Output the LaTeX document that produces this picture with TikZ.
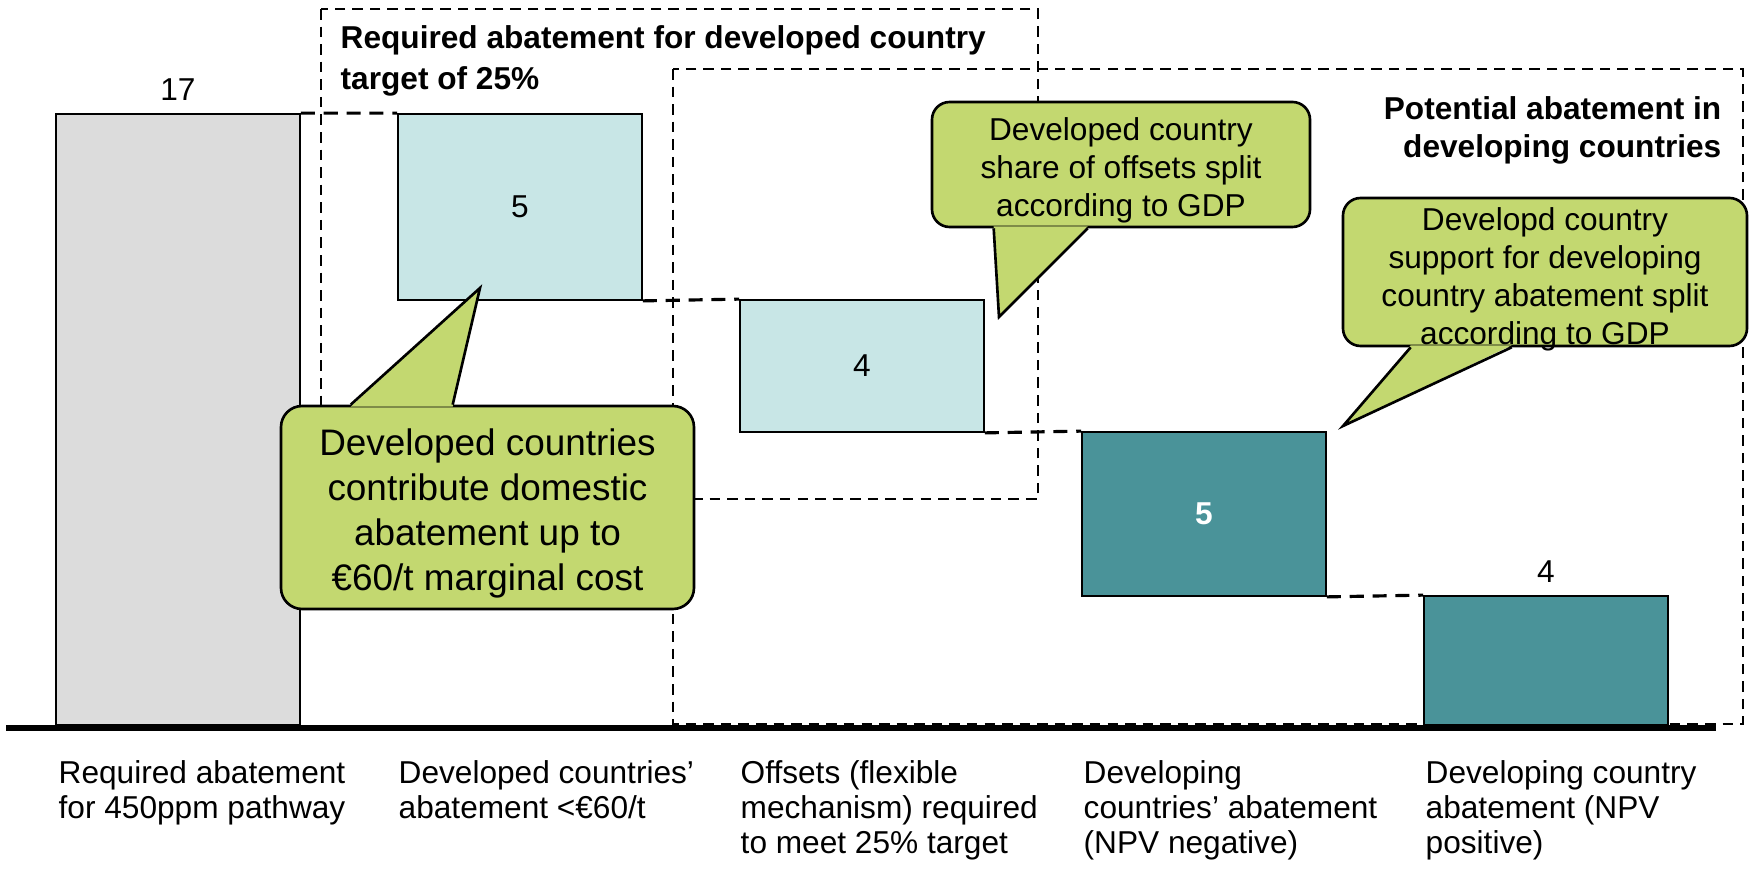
\documentclass[tikz,border=0pt]{standalone}
\usepackage{fontspec}
\setmainfont{Liberation Sans}
\usetikzlibrary{positioning,calc}
\definecolor{barGrey}{HTML}{DCDCDC}
\definecolor{barLight}{HTML}{C8E6E6}
\definecolor{barTeal}{HTML}{4A9399}
\definecolor{noteGreen}{HTML}{C3D870}

\begin{document}
\begin{tikzpicture}[x=0.1mm,y=-0.1mm,
  bar/.style={draw=black,line width=0.5pt,minimum width=24.4mm,inner sep=0pt,font=\fontsize{9}{10}\selectfont},
  val/.style={font=\fontsize{9}{10}\selectfont},
  link/.style={line width=0.9pt,dash pattern=on 4pt off 2.5pt},
  frame/.style={line width=0.6pt,dash pattern=on 3pt off 2pt},
  note/.style={draw=black,line width=0.75pt,fill=noteGreen,rounded corners=5pt,inner sep=0pt},
  notetext/.style={inner sep=0pt,align=center,font=\fontsize{9}{10.8}\selectfont},
  tipline/.style={line width=0.75pt,line join=miter},
  cat/.style={anchor=north west,inner sep=0pt,align=left,font=\fontsize{9}{10}\selectfont}]
\useasboundingbox (0,0) rectangle (1750,869);

% dashed frames
\draw[frame] (321,9) rectangle (1038,499);
\draw[frame] (673,69) rectangle (1743,724);

% bars
\node[bar,fill=barGrey,minimum height=61.1mm] (req) at (178,419.5) {};
\node[bar,fill=barLight,minimum height=18.6mm] (dom) at (520,207) {5};
\node[bar,fill=barLight,minimum height=13.2mm] (off) at (862,366) {4};
\node[bar,fill=barTeal,minimum height=16.4mm,text=white,font=\fontsize{9}{10}\selectfont\bfseries] (neg) at (1204,514) {5};
\node[bar,fill=barTeal,minimum height=12.9mm] (pos) at (1546,660.5) {};
\node[val,above=0pt of req] (vreq) {17};
\node[val,above=0pt of pos] (vpos) {4};

% steps
\draw[link] (req.north east) -- (dom.north west);
\draw[link] (dom.south east) -- (off.north west);
\draw[link] (off.south east) -- (neg.north west);
\draw[link] (neg.south east) -- (pos.north west);

% axis
\coordinate (ax0) at (6,728);
\coordinate (ax1) at (1716,728);
\draw[line width=1.5pt] (ax0) -- (ax1);

% frame titles
\node[anchor=north west,inner sep=0pt,align=left,font=\fontsize{9}{11.7}\selectfont\bfseries] (ttldev) at (340,25) {Required abatement for developed country\\target of 25\%};
\node[anchor=north east,inner sep=0pt,align=right,font=\fontsize{9}{10.8}\selectfont\bfseries] (ttlpot) at (1722,96) {Potential abatement in\\developing countries};

% callouts
\node[note,minimum width=41.3mm,minimum height=20.3mm,rounded corners=6pt] (ndom) at (487.5,507.5) {};
\coordinate (tdom) at (480,288);
\fill[noteGreen] ($(ndom.north west)+(71,2)$) -- (tdom) -- ($(ndom.north west)+(173,2)$) -- cycle;
\draw[tipline] ($(ndom.north west)+(71,0)$) -- (tdom) -- ($(ndom.north west)+(173,0)$);
\node[notetext,font=\fontsize{10.5}{12.8}\selectfont] (xdom) at ($(ndom.center)+(0,6)$) {Developed countries\\contribute domestic\\abatement up to\\€60/t marginal cost};

\node[note,minimum width=37.8mm,minimum height=12.5mm] (noff) at (1121,164.5) {};
\coordinate (toff) at (999,317);
\fill[noteGreen] ($(noff.south west)+(63,-2)$) -- (toff) -- ($(noff.south west)+(157,-2)$) -- cycle;
\draw[tipline] ($(noff.south west)+(63,0)$) -- (toff) -- ($(noff.south west)+(157,0)$);
\node[notetext] (xoff) at ($(noff.center)+(0,6)$) {Developed country\\share of offsets split\\according to GDP};

\node[note,minimum width=40.4mm,minimum height=14.8mm] (nsup) at (1545,272) {};
\coordinate (tsup) at (1343,426);
\fill[noteGreen] ($(nsup.south west)+(69,-2)$) -- (tsup) -- ($(nsup.south west)+(170,-2)$) -- cycle;
\draw[tipline] ($(nsup.south west)+(69,0)$) -- (tsup) -- ($(nsup.south west)+(170,0)$);
\node[notetext] (xsup) at ($(nsup.center)+(0,7)$) {Developd country\\support for developing\\country abatement split\\according to GDP};

% categories
\node[cat] (lreq) at (58,760) {Required abatement\\for 450ppm pathway};
\node[cat] (ldom) at (398,760) {Developed countries’\\abatement <€60/t};
\node[cat] (loff) at (740,760) {Offsets (flexible\\mechanism) required\\to meet 25\% target};
\node[cat] (lneg) at (1083,760) {Developing\\countries’ abatement\\(NPV negative)};
\node[cat] (lpos) at (1425,760) {Developing country\\abatement (NPV\\positive)};
\end{tikzpicture}
\end{document}
